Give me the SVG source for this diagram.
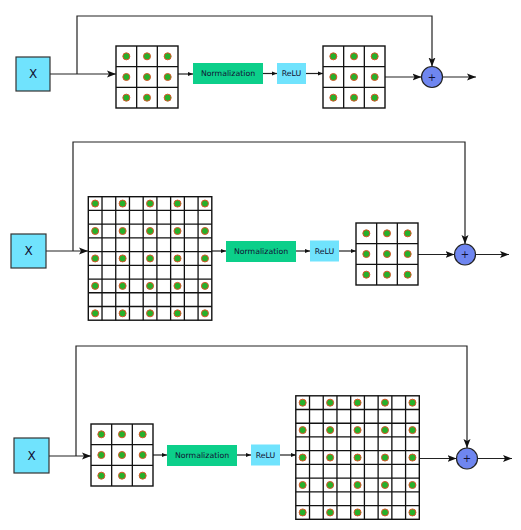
<svg xmlns="http://www.w3.org/2000/svg" xmlns:xlink="http://www.w3.org/1999/xlink" width="521" height="530" viewBox="0 0 521 530">
<style>
  .xbox{fill:#70e3fd;stroke:#333;stroke-width:1.2}
  .norm{fill:#0ccf8a}
  .relu{fill:#70e3fd}
  .add{fill:#6f86f0;stroke:#222;stroke-width:1.2}
  .gframe{fill:#fff;stroke:#111;stroke-width:1.4}
  .gline{fill:none;stroke:#111;stroke-width:1.3}
  .dot{fill:#27b02a;stroke:#d9552a;stroke-width:1}
  .lbl{font-family:"DejaVu Sans",sans-serif;fill:#113;text-anchor:middle;dominant-baseline:central}
  .conn{fill:none;stroke:#222;stroke-width:1.2}
  .big{marker-end:url(#ab)}
  .small{marker-end:url(#as)}
</style>
<defs>
  <marker id="ab" markerUnits="userSpaceOnUse" markerWidth="10" markerHeight="8" refX="9" refY="4" orient="auto">
    <path d="M0,0.5 L9,4 L0,7.5 L2,4 z" fill="#111"/>
  </marker>
  <marker id="as" markerUnits="userSpaceOnUse" markerWidth="6" markerHeight="5" refX="5" refY="2.5" orient="auto">
    <path d="M0,0.5 L5,2.5 L0,4.5 z" fill="#111"/>
  </marker>
  <g id="g3">
    <rect class="gframe" x="0" y="0" width="62" height="62"/>
    <path class="gline" d="M20.67,0V62M41.33,0V62M0,20.67H62M0,41.33H62"/>
    <circle class="dot" cx="10.33" cy="10.33" r="3.5"/><circle class="dot" cx="31" cy="10.33" r="3.5"/><circle class="dot" cx="51.67" cy="10.33" r="3.5"/>
    <circle class="dot" cx="10.33" cy="31" r="3.5"/><circle class="dot" cx="31" cy="31" r="3.5"/><circle class="dot" cx="51.67" cy="31" r="3.5"/>
    <circle class="dot" cx="10.33" cy="51.67" r="3.5"/><circle class="dot" cx="31" cy="51.67" r="3.5"/><circle class="dot" cx="51.67" cy="51.67" r="3.5"/>
  </g>
  <g id="g9">
    <rect class="gframe" x="0" y="0" width="123.5" height="123.5"/>
    <path class="gline" d="M13.72,0V123.5M27.44,0V123.5M41.17,0V123.5M54.89,0V123.5M68.61,0V123.5M82.33,0V123.5M96.06,0V123.5M109.78,0V123.5M0,13.72H123.5M0,27.44H123.5M0,41.17H123.5M0,54.89H123.5M0,68.61H123.5M0,82.33H123.5M0,96.06H123.5M0,109.78H123.5"/>
    <g id="row9">
      <circle class="dot" cx="6.86" cy="6.86" r="3.5"/><circle class="dot" cx="34.31" cy="6.86" r="3.5"/><circle class="dot" cx="61.75" cy="6.86" r="3.5"/><circle class="dot" cx="89.19" cy="6.86" r="3.5"/><circle class="dot" cx="116.64" cy="6.86" r="3.5"/>
    </g>
    <use xlink:href="#row9" href="#row9" y="27.44"/>
    <use xlink:href="#row9" href="#row9" y="54.89"/>
    <use xlink:href="#row9" href="#row9" y="82.33"/>
    <use xlink:href="#row9" href="#row9" y="109.78"/>
  </g>
</defs>
<rect width="521" height="530" fill="#fff"/>

<g id="connectors">
  <!-- panel 1 -->
  <path class="conn big" d="M50,74H116"/>
  <path class="conn big" d="M77,74V16H432V66.5"/>
  <path class="conn small" d="M178,74H193"/>
  <path class="conn small" d="M263,73.5H277"/>
  <path class="conn small" d="M306,73.5H323"/>
  <path class="conn big" d="M385,77H421.5"/>
  <path class="conn big" d="M442.5,77H476"/>
  <!-- panel 2 -->
  <path class="conn big" d="M46,251H88"/>
  <path class="conn big" d="M73,251V142H465V244"/>
  <path class="conn small" d="M212,251H226"/>
  <path class="conn small" d="M296,251H310"/>
  <path class="conn small" d="M339,251H356"/>
  <path class="conn big" d="M418,254.5H454.5"/>
  <path class="conn big" d="M475.5,254.5H509"/>
  <!-- panel 3 -->
  <path class="conn big" d="M49,456H91"/>
  <path class="conn big" d="M76,456V346H467V448"/>
  <path class="conn small" d="M153,455H167"/>
  <path class="conn small" d="M237,455H251"/>
  <path class="conn small" d="M280,455H296"/>
  <path class="conn big" d="M419,458.5H456.5"/>
  <path class="conn big" d="M477.5,458.5H512"/>
</g>

<!-- panel 1 -->
<g id="x1"><rect class="xbox" x="16" y="57" width="34" height="34"/><text class="lbl" x="33" y="74" font-size="12">X</text></g>
<g id="grid1a"><use xlink:href="#g3" href="#g3" x="116" y="46"/></g>
<g id="norm1"><rect class="norm" x="193" y="63" width="70" height="21"/><text class="lbl" x="228" y="73.5" font-size="7.8">Normalization</text></g>
<g id="relu1"><rect class="relu" x="277" y="63" width="29" height="21"/><text class="lbl" x="291.5" y="73.5" font-size="7.8">ReLU</text></g>
<g id="grid1b"><use xlink:href="#g3" href="#g3" x="323" y="46"/></g>
<g id="add1"><circle class="add" cx="432" cy="77" r="10.5"/><text class="lbl" x="432" y="77" font-size="10">+</text></g>

<!-- panel 2 -->
<g id="x2"><rect class="xbox" x="11" y="234" width="35" height="34"/><text class="lbl" x="28.5" y="251" font-size="12">X</text></g>
<g id="grid2a"><use xlink:href="#g9" href="#g9" x="88.3" y="196.7"/></g>
<g id="norm2"><rect class="norm" x="226" y="241" width="70" height="21"/><text class="lbl" x="261" y="251.5" font-size="7.8">Normalization</text></g>
<g id="relu2"><rect class="relu" x="310" y="240.5" width="29" height="21"/><text class="lbl" x="324.5" y="251" font-size="7.8">ReLU</text></g>
<g id="grid2b"><use xlink:href="#g3" href="#g3" x="356" y="223"/></g>
<g id="add2"><circle class="add" cx="465" cy="254.5" r="10.5"/><text class="lbl" x="465" y="254.5" font-size="10">+</text></g>

<!-- panel 3 -->
<g id="x3"><rect class="xbox" x="14" y="438" width="35" height="35"/><text class="lbl" x="31.5" y="455.5" font-size="12">X</text></g>
<g id="grid3a"><use xlink:href="#g3" href="#g3" x="91" y="424"/></g>
<g id="norm3"><rect class="norm" x="167" y="445" width="70" height="21"/><text class="lbl" x="202" y="455.5" font-size="7.8">Normalization</text></g>
<g id="relu3"><rect class="relu" x="251" y="444.5" width="29" height="21"/><text class="lbl" x="265.5" y="455" font-size="7.8">ReLU</text></g>
<g id="grid3b"><use xlink:href="#g9" href="#g9" x="295.8" y="395.8"/></g>
<g id="add3"><circle class="add" cx="467" cy="458.5" r="10.5"/><text class="lbl" x="467" y="458.5" font-size="10">+</text></g>
</svg>
